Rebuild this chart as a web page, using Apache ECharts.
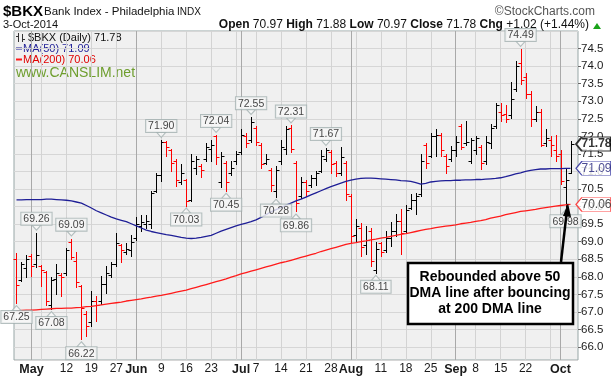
<!DOCTYPE html>
<html>
<head>
<meta charset="utf-8">
<script src="https://cdn.jsdelivr.net/npm/echarts@6/dist/echarts.min.js"></script>
<style>
  html, body { margin: 0; padding: 0; background: #fff; }
  #main { width: 611px; height: 377px; }
</style>
</head>
<body>
<div id="main"></div>
<script>
// trading days, 28-Apr-2014 .. 3-Oct-2014
const dates = [
  '4/28','4/29','4/30','5/1','5/2',
  '5/5','5/6','5/7','5/8','5/9',
  '5/12','5/13','5/14','5/15','5/16',
  '5/19','5/20','5/21','5/22','5/23',
  '5/27','5/28','5/29','5/30',
  '6/2','6/3','6/4','6/5','6/6',
  '6/9','6/10','6/11','6/12','6/13',
  '6/16','6/17','6/18','6/19','6/20',
  '6/23','6/24','6/25','6/26','6/27',
  '6/30','7/1','7/2','7/3',
  '7/7','7/8','7/9','7/10','7/11',
  '7/14','7/15','7/16','7/17','7/18',
  '7/21','7/22','7/23','7/24','7/25',
  '7/28','7/29','7/30','7/31','8/1',
  '8/4','8/5','8/6','8/7','8/8',
  '8/11','8/12','8/13','8/14','8/15',
  '8/18','8/19','8/20','8/21','8/22',
  '8/25','8/26','8/27','8/28','8/29',
  '9/2','9/3','9/4','9/5',
  '9/8','9/9','9/10','9/11','9/12',
  '9/15','9/16','9/17','9/18','9/19',
  '9/22','9/23','9/24','9/25','9/26',
  '9/29','9/30','10/1','10/2','10/3'
];

const open = [
  68.50,67.90,68.25,68.60,68.35,68.30,68.15,67.20,67.95,68.05,
  68.10,69.00,68.45,67.75,66.95,66.70,67.30,67.30,67.80,68.05,
  68.35,68.90,68.70,68.75,69.10,69.45,69.50,69.50,70.45,70.90,
  71.85,71.60,71.30,70.70,70.75,70.20,71.10,71.15,71.35,71.65,
  72.00,70.70,71.25,70.95,71.30,71.55,72.00,71.90,72.25,71.75,
  71.25,71.05,70.45,71.30,71.65,72.25,71.25,70.30,70.70,70.60,
  70.80,71.00,71.35,71.55,71.25,70.95,71.25,70.30,69.20,69.40,
  68.90,69.30,68.20,68.95,68.75,69.10,69.30,69.60,69.30,69.95,
  70.20,70.35,71.75,71.45,72.00,72.05,71.45,71.35,71.60,72.30,
  71.80,71.30,71.60,71.70,71.30,71.80,72.30,72.70,72.65,72.60,
  73.35,74.10,73.70,73.20,72.50,72.70,71.80,71.90,71.60,71.50,
  70.55,70.97
];
const high = [
  68.67,68.42,68.62,68.66,69.26,68.33,68.17,68.00,68.35,68.12,
  68.83,69.09,68.70,67.78,67.03,67.60,67.45,68.03,68.31,68.41,
  69.26,68.93,68.97,69.18,69.70,69.75,69.75,70.45,70.97,71.90,
  71.88,71.63,71.35,71.20,70.78,71.49,71.45,71.22,71.80,71.90,
  72.04,71.55,71.30,71.30,71.58,72.20,72.10,72.55,72.30,71.80,
  71.50,71.10,71.15,71.90,72.30,72.31,71.30,70.85,70.75,70.90,
  71.00,71.62,71.67,71.60,71.30,71.70,71.30,70.35,69.64,69.54,
  69.45,69.40,69.00,69.00,69.30,69.55,69.80,69.92,70.05,70.35,
  70.40,71.50,71.80,72.10,72.20,72.10,71.50,71.72,72.00,72.34,
  72.45,71.95,72.00,71.75,72.00,72.34,72.96,72.96,72.90,73.55,
  74.15,74.49,73.80,73.30,72.85,72.77,72.20,72.00,72.05,71.60,
  71.10,71.88
];
const low = [
  67.25,67.88,68.00,68.03,68.28,67.74,67.20,67.08,67.50,67.46,
  68.05,68.50,67.70,66.22,66.32,66.61,66.75,67.22,67.55,67.98,
  68.31,68.41,68.64,68.60,69.05,69.30,69.40,69.40,70.42,70.73,
  71.44,71.01,70.59,70.63,70.03,70.16,70.93,70.85,71.30,71.30,
  71.20,70.55,70.45,70.90,71.20,71.50,71.70,71.85,71.75,71.10,
  71.20,70.45,70.28,71.20,71.50,71.55,69.86,70.25,70.30,70.55,
  70.60,70.98,71.30,70.95,70.88,70.90,70.20,69.00,69.00,68.60,
  68.64,68.30,68.11,68.60,68.72,68.88,69.15,68.64,69.25,69.92,
  69.80,70.30,71.10,71.40,71.45,71.45,70.97,71.30,71.45,71.63,
  71.75,71.25,71.50,71.06,71.20,71.68,72.25,72.43,72.40,72.53,
  73.29,73.48,73.10,72.30,72.43,71.72,71.72,71.44,71.30,70.63,
  69.98,70.97
];
const close = [
  67.78,68.35,68.50,68.30,68.62,68.20,67.30,67.90,68.10,68.00,
  68.75,68.55,67.85,67.10,66.60,67.30,67.20,67.80,68.10,68.35,
  68.95,68.75,68.78,69.00,69.50,69.55,69.60,70.40,70.90,71.85,
  71.70,71.25,70.75,70.95,70.15,71.30,71.35,71.05,71.70,71.75,
  71.40,71.45,70.70,71.10,71.50,72.05,71.80,72.40,71.85,71.20,
  71.35,70.60,71.05,71.70,72.20,71.65,70.10,70.70,70.45,70.80,
  70.95,71.45,71.60,71.20,70.95,71.40,70.35,69.15,69.45,68.85,
  69.05,68.45,68.80,68.70,69.10,69.30,69.60,69.25,69.90,70.20,
  70.30,71.30,71.25,72.00,72.05,71.60,71.15,71.60,71.85,71.70,
  71.85,71.90,71.95,71.25,71.85,72.25,72.90,72.60,72.50,73.05,
  74.00,73.60,73.20,72.50,72.70,71.75,71.95,71.75,71.45,70.74,
  70.76,71.78
];

const ma50 = [
  70.19,70.19,70.20,70.20,70.20,70.20,70.21,70.21,70.20,70.19,
  70.18,70.16,70.13,70.10,70.03,69.96,69.88,69.82,69.76,69.70,
  69.65,69.61,69.57,69.51,69.45,69.39,69.33,69.29,69.26,69.23,
  69.20,69.18,69.15,69.12,69.10,69.09,69.10,69.12,69.15,69.18,
  69.24,69.30,69.35,69.40,69.45,69.49,69.53,69.57,69.62,69.69,
  69.77,69.85,69.91,69.97,70.04,70.10,70.16,70.21,70.27,70.33,
  70.39,70.45,70.51,70.57,70.62,70.67,70.72,70.75,70.78,70.80,
  70.81,70.81,70.80,70.79,70.78,70.77,70.76,70.74,70.73,70.72,
  70.68,70.64,70.66,70.70,70.72,70.73,70.74,70.74,70.75,70.75,
  70.76,70.76,70.77,70.77,70.78,70.79,70.80,70.82,70.85,70.89,
  70.93,70.96,71.00,71.03,71.05,71.07,71.07,71.08,71.08,71.08,
  71.09,71.09
];
const ma200 = [
  67.03,67.04,67.05,67.05,67.06,67.07,67.08,67.09,67.10,67.10,
  67.11,67.11,67.12,67.13,67.15,67.16,67.18,67.20,67.22,67.24,
  67.26,67.28,67.31,67.33,67.35,67.37,67.40,67.42,67.45,67.47,
  67.50,67.53,67.56,67.59,67.62,67.66,67.70,67.74,67.78,67.82,
  67.86,67.90,67.94,67.99,68.03,68.08,68.12,68.16,68.20,68.24,
  68.28,68.32,68.36,68.40,68.43,68.47,68.51,68.55,68.59,68.63,
  68.67,68.72,68.76,68.80,68.84,68.88,68.92,68.95,68.97,69.00,
  69.02,69.05,69.07,69.10,69.12,69.15,69.18,69.21,69.23,69.26,
  69.29,69.32,69.35,69.37,69.40,69.42,69.44,69.46,69.48,69.51,
  69.53,69.55,69.58,69.60,69.63,69.67,69.70,69.73,69.77,69.80,
  69.83,69.86,69.88,69.90,69.92,69.95,69.97,69.99,70.01,70.03,
  70.05,70.06
];

// bars that carry a price tag
const highTagDates = ['5/2','5/13','6/9','6/24','7/3','7/16','7/25','9/19'];
const lowTagDates = ['4/28','5/7','5/15','6/16','6/26','7/11','7/17','8/8','10/2'];

// x axis labels and vertical grid lines
const xLabelDates = ['5/1','5/12','5/19','5/27','6/2','6/9','6/16','6/23','7/1','7/7','7/14','7/21','7/28','8/1','8/11','8/18','8/25','9/2','9/8','9/15','9/22','10/1'];
const xLabelTexts = ['May','12','19','27','Jun','9','16','23','Jul','7','14','21','28','Aug','11','18','25','Sep','8','15','22','Oct'];
const weekStartDates = ['5/5','5/12','5/19','5/27','6/2','6/9','6/16','6/23','6/30','7/7','7/14','7/21','7/28','8/4','8/11','8/18','8/25','9/2','9/8','9/15','9/22','9/29'];
const monthStartDates = ['5/1','6/2','7/1','8/1','9/2','10/1'];

const FONT = '"Liberation Sans", Arial, sans-serif';
const last = dates.length - 1;
const cats = dates.concat(['']);
const labelMap = {};
xLabelDates.forEach((d, k) => { labelMap[d] = xLabelTexts[k]; });
const idx = d => dates.indexOf(d);

const chg = close[last] - close[last - 1];
const chgPct = chg / close[last - 1] * 100;
const sign = v => (v >= 0 ? '+' : '') + v.toFixed(2);

const chart = echarts.init(document.getElementById('main'));

const tagLabel = {
  show: true,
  formatter: p => p.value[1].toFixed(2),
  fontFamily: FONT, fontSize: 10.5, color: '#111',
  backgroundColor: '#f7f7f7', borderColor: '#a2b0b0', borderWidth: 1,
  padding: [1, 2, 0, 2], distance: 0
};

chart.setOption({
  animation: false,
  grid: {
    left: 14, right: 33, top: 31, bottom: 17,
    show: true, backgroundColor: '#f0f0f0',
    borderColor: '#97a6a6', borderWidth: 1
  },
  xAxis: [{
    type: 'category',
    data: cats,
    boundaryGap: true,
    axisLine: { show: false },
    axisTick: { show: false },
    axisLabel: {
      interval: (i, v) => labelMap[v] !== undefined,
      formatter: v => {
        const t = labelMap[v];
        return isNaN(+t) ? '{m|' + t + '}' : t;
      },
      margin: 3,
      color: '#1a1a1a', fontFamily: FONT, fontSize: 12,
      rich: { m: { fontWeight: 'bold', fontSize: 12.5, fontFamily: FONT, color: '#1a1a1a' } }
    },
    splitLine: {
      show: true,
      alignWithLabel: true,
      interval: (i, v) => weekStartDates.indexOf(v) >= 0,
      lineStyle: { color: '#d3d3d3', width: 1 }
    }
  }, {
    type: 'category',
    data: cats,
    boundaryGap: true,
    axisLine: { show: false },
    axisTick: { show: false },
    axisLabel: { show: false },
    splitLine: {
      show: true,
      alignWithLabel: true,
      interval: (i, v) => monthStartDates.indexOf(v) >= 0,
      lineStyle: { color: '#a9a9a9', width: 1 }
    }
  }],
  yAxis: {
    type: 'value',
    position: 'right',
    min: 65.63,
    max: 75,
    splitNumber: 18,
    axisLine: { show: false },
    axisTick: { show: true, length: 3, lineStyle: { color: '#666' } },
    axisLabel: {
      margin: 3,
      showMinLabel: false,
      showMaxLabel: false,
      formatter: v => v.toFixed(1),
      color: '#1a1a1a', fontFamily: FONT, fontSize: 11.5
    },
    splitLine: { lineStyle: { color: '#d6d6d6' } }
  },
  series: [
    {
      type: 'custom',
      z: 3,
      data: dates.map((d, i) => [i, open[i], high[i], low[i], close[i]]),
      encode: { x: 0, y: [1, 2, 3, 4] },
      renderItem: (params, api) => {
        const i = api.value(0);
        const prev = i > 0 ? close[i - 1] : open[i];
        const color = api.value(4) < prev ? '#ff0000' : '#000000';
        const pH = api.coord([i, api.value(2)]);
        const pL = api.coord([i, api.value(3)]);
        const yO = Math.round(api.coord([i, api.value(1)])[1]) + 0.5;
        const yC = Math.round(api.coord([i, api.value(4)])[1]) + 0.5;
        const x = Math.round(pH[0]) + 0.5;
        const style = { stroke: color, lineWidth: 1 };
        return {
          type: 'group',
          children: [
            { type: 'line', shape: { x1: x, y1: Math.round(pH[1]), x2: x, y2: Math.round(pL[1]) + 1 }, style },
            { type: 'line', shape: { x1: x - 3, y1: yO, x2: x, y2: yO }, style },
            { type: 'line', shape: { x1: x, y1: yC, x2: x + 3, y2: yC }, style }
          ]
        };
      }
    },
    {
      type: 'line', name: 'MA(50)', data: ma50, z: 4,
      symbol: 'none', silent: true,
      lineStyle: { color: '#1e1e96', width: 1.3 }
    },
    {
      type: 'line', name: 'MA(200)', data: ma200, z: 4,
      symbol: 'none', silent: true,
      lineStyle: { color: '#ff1a1a', width: 1.3 }
    },
    {
      type: 'scatter', z: 5, silent: true,
      data: highTagDates.map(d => [idx(d), high[idx(d)]]),
      symbol: 'path://M0,0 L10,0 L5,6 Z', symbolSize: [9, 5], symbolOffset: [0, -5],
      itemStyle: { color: '#f7f7f7', borderColor: '#a2b0b0', borderWidth: 1 },
      label: Object.assign({ position: 'top' }, tagLabel)
    },
    {
      type: 'scatter', z: 5, silent: true,
      data: lowTagDates.map(d => [idx(d), low[idx(d)]]),
      symbol: 'path://M5,0 L10,6 L0,6 Z', symbolSize: [9, 5], symbolOffset: [0, 5],
      itemStyle: { color: '#f7f7f7', borderColor: '#a2b0b0', borderWidth: 1 },
      label: Object.assign({ position: 'bottom' }, tagLabel)
    },
    {
      // last value tags on the right edge
      type: 'scatter', z: 6, silent: true, clip: false,
      symbol: 'path://M0,7 L6,0 L36,0 L36,14 L6,14 Z', symbolSize: [35, 14], symbolOffset: [23, 0],
      itemStyle: { color: '#ffffff', borderWidth: 1 },
      label: {
        show: true, position: 'inside', offset: [3, 0],
        formatter: p => p.value[1].toFixed(2),
        fontFamily: FONT, fontSize: 12
      },
      data: [
        { value: [last, close[last]], itemStyle: { borderColor: '#000', borderWidth: 1.5 }, label: { color: '#000', fontWeight: 'bold' } },
        { value: [last, ma50[last]], itemStyle: { borderColor: '#1e1e96' }, label: { color: '#1e1e78' } },
        { value: [last, ma200[last]], itemStyle: { borderColor: '#ff1a1a' }, label: { color: '#222' } }
      ]
    }
  ],
  graphic: [
    { type: 'text', x: 3, y: 4, style: { text: '$BKX', font: 'bold 15px ' + FONT, fill: '#000' } },
    { type: 'text', x: 44, y: 6, style: { text: 'Bank Index - Philadelphia', font: '11.5px ' + FONT, fill: '#111' } },
    { type: 'text', x: 177, y: 7, style: { text: 'INDX', font: '10px ' + FONT, fill: '#111' } },
    { type: 'text', x: 595, y: 6, style: { text: '\u00a9StockCharts.com', align: 'right', font: '12px ' + FONT, fill: '#555' } },
    { type: 'text', x: 3, y: 19, style: { text: '3-Oct-2014', font: '11px ' + FONT, fill: '#111' } },
    {
      type: 'text', x: 589, y: 19,
      style: {
        text: '{b|Open} ' + open[last].toFixed(2) + ' {b|High} ' + high[last].toFixed(2) +
              ' {b|Low} ' + low[last].toFixed(2) + ' {b|Close} ' + close[last].toFixed(2) +
              ' {b|Chg} ' + sign(chg) + ' (' + sign(chgPct) + '%)',
        align: 'right', font: '12px ' + FONT, fill: '#111',
        rich: { b: { fontWeight: 'bold', fontSize: 12, fontFamily: FONT, fill: '#111' } }
      }
    },
    { type: 'polygon', shape: { points: [[593, 29], [597, 23], [601, 29]] }, style: { fill: '#1aa31a' } },

    // legend inside the plot
    { type: 'line', shape: { x1: 18.5, y1: 33, x2: 18.5, y2: 42 }, style: { stroke: '#333', lineWidth: 1 } },
    { type: 'line', shape: { x1: 16, y1: 36.5, x2: 18.5, y2: 36.5 }, style: { stroke: '#333', lineWidth: 1 } },
    { type: 'line', shape: { x1: 22.5, y1: 34, x2: 22.5, y2: 42 }, style: { stroke: '#333', lineWidth: 1 } },
    { type: 'line', shape: { x1: 22.5, y1: 39.5, x2: 25, y2: 39.5 }, style: { stroke: '#333', lineWidth: 1 } },
    { type: 'text', x: 28, y: 32, style: { text: '$BKX (Daily) ' + close[last].toFixed(2), font: '11px ' + FONT, fill: '#111' } },
    { type: 'line', shape: { x1: 16, y1: 48.5, x2: 22, y2: 48.5 }, style: { stroke: '#1e1e96', lineWidth: 2 } },
    { type: 'text', x: 23, y: 43, style: { text: 'MA(50) ' + ma50[last].toFixed(2), font: '11px ' + FONT, fill: '#1e1e96' } },
    { type: 'line', shape: { x1: 16, y1: 59.5, x2: 22, y2: 59.5 }, style: { stroke: '#ff1a1a', lineWidth: 2 } },
    { type: 'text', x: 23, y: 54, style: { text: 'MA(200) ' + ma200[last].toFixed(2), font: '11px ' + FONT, fill: '#e00000' } },
    { type: 'text', x: 16, y: 66, style: { text: 'www.CANSLIM.net', font: '14px ' + FONT, fill: '#6e9e2e' } },

    // callout
    { type: 'rect', shape: { x: 408, y: 263, width: 165, height: 61 }, style: { fill: '#fff', stroke: '#000', lineWidth: 2.5 }, z: 10 },
    {
      type: 'text', x: 490, y: 293, z: 11,
      style: {
        text: 'Rebounded above 50\nDMA line after bouncing\nat 200 DMA line',
        align: 'center', verticalAlign: 'middle', lineHeight: 16,
        font: 'bold 14px ' + FONT, fill: '#000'
      }
    },
    { type: 'line', shape: { x1: 561, y1: 262, x2: 566.5, y2: 214 }, style: { stroke: '#000', lineWidth: 2.5 }, z: 10 },
    { type: 'polygon', shape: { points: [[568, 203], [563, 216], [571, 217]] }, style: { fill: '#000' }, z: 10 }
  ]
});
</script>
</body>
</html>
